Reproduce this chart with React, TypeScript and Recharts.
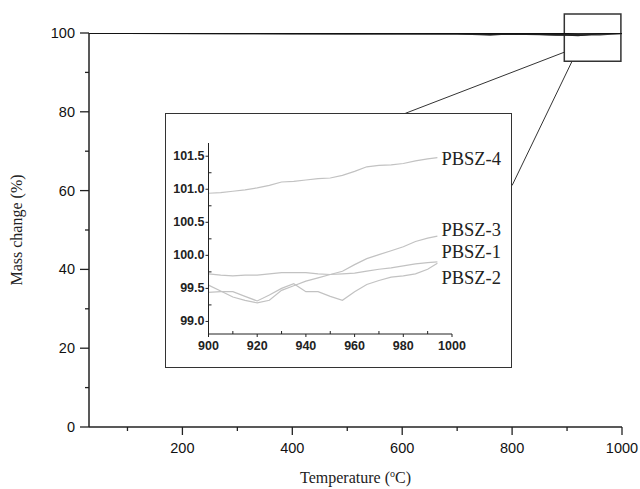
import React from "react";
import { LineChart, Line, XAxis, YAxis, ReferenceArea, ReferenceLine } from "recharts";

// main TGA curves (25-1000 °C)
const temps = [30, 60, 100, 200, 300, 400, 500, 600, 700, 740, 760, 780, 800, 850, 880, 900, 920, 940, 960, 980, 1000];
const main1 = [100, 99.95, 99.95, 99.9, 99.9, 99.9, 99.85, 99.9, 99.85, 99.8, 99.75, 99.8, 99.8, 99.75, 99.7, 99.7, 99.7, 99.75, 99.75, 99.85, 99.9];
const main2 = [100, 99.9, 99.9, 99.85, 99.85, 99.8, 99.85, 99.8, 99.75, 99.6, 99.45, 99.65, 99.7, 99.6, 99.45, 99.5, 99.4, 99.5, 99.5, 99.7, 99.85];
const main3 = [100, 99.9, 99.95, 99.9, 99.85, 99.85, 99.8, 99.8, 99.8, 99.75, 99.7, 99.7, 99.7, 99.65, 99.55, 99.5, 99.35, 99.6, 99.85, 100, 100];
const main4 = [100, 100, 99.95, 99.95, 100, 99.95, 99.95, 100, 99.95, 99.95, 99.9, 99.95, 99.95, 99.9, 99.9, 99.95, 100, 100, 100, 100, 100];

// inset: 900-1000 °C zoom
const zoomTemps = [900, 905, 910, 915, 920, 925, 930, 935, 940, 945, 950, 955, 960, 965, 970, 975, 980, 985, 990, 994];
const pbsz4 = [100.94, 100.95, 100.97, 100.99, 101.02, 101.06, 101.11, 101.12, 101.14, 101.16, 101.17, 101.21, 101.27, 101.34, 101.36, 101.37, 101.39, 101.43, 101.46, 101.48];
const pbsz3 = [99.55, 99.46, 99.37, 99.32, 99.28, 99.32, 99.47, 99.54, 99.61, 99.66, 99.71, 99.76, 99.86, 99.95, 100.01, 100.07, 100.13, 100.21, 100.26, 100.29];
const pbsz1 = [99.72, 99.7, 99.69, 99.7, 99.7, 99.72, 99.74, 99.74, 99.74, 99.72, 99.71, 99.72, 99.73, 99.76, 99.79, 99.81, 99.84, 99.87, 99.89, 99.9];
const pbsz2 = [99.44, 99.45, 99.45, 99.38, 99.31, 99.4, 99.5, 99.57, 99.45, 99.45, 99.38, 99.32, 99.45, 99.56, 99.62, 99.67, 99.69, 99.72, 99.79, 99.88];

const seriesNames = ["PBSZ-4", "PBSZ-3", "PBSZ-1", "PBSZ-2"];

const mainXTicks = [100, 200, 300, 400, 500, 600, 700, 800, 900, 1000];
const mainYTicks = [0, 10, 20, 30, 40, 50, 60, 70, 80, 90, 100];
const zoomXTicks = [900, 910, 920, 930, 940, 950, 960, 970, 980, 990, 1000];
const zoomYTicks = [99, 99.25, 99.5, 99.75, 100, 100.25, 100.5, 100.75, 101, 101.25, 101.5];

const mainData = temps.map((t, i) => ({ t, a: main1[i], b: main2[i], c: main3[i], d: main4[i] }));
const zoomData = zoomTemps.map((t, i) => ({ t, p4: pbsz4[i], p3: pbsz3[i], p1: pbsz1[i], p2: pbsz2[i] }));

const AXIS = "#222";
const SANS = "'Liberation Sans', Arial, sans-serif";
const SERIF = "'Liberation Serif', 'Times New Roman', serif";

const MainXTick = (props: any) => {
  const { x, y, payload } = props;
  const major = payload.value % 200 === 0;
  return (
    <g>
      <line x1={x} x2={x} y1={y} y2={y + (major ? 8 : 4)} stroke={AXIS} strokeWidth={1.3} />
      {major && (
        <text x={x} y={y + 26} textAnchor="middle" fontFamily={SANS} fontSize={14.5} fill="#111">
          {payload.value}
        </text>
      )}
    </g>
  );
};

const MainYTick = (props: any) => {
  const { x, y, payload } = props;
  const major = payload.value % 20 === 0;
  return (
    <g>
      <line x1={x} x2={x - (major ? 9 : 4)} y1={y} y2={y} stroke={AXIS} strokeWidth={1.3} />
      {major && (
        <text x={x - 14} y={y + 5} textAnchor="end" fontFamily={SANS} fontSize={14.5} fill="#111">
          {payload.value}
        </text>
      )}
    </g>
  );
};

const ZoomXTick = (props: any) => {
  const { x, y, payload } = props;
  const major = payload.value % 20 === 0;
  return (
    <g>
      <line x1={x} x2={x} y1={y} y2={major ? y + 3 : y - 3} stroke={AXIS} strokeWidth={1} />
      {major && (
        <text x={x} y={y + 16} textAnchor="middle" fontFamily={SANS} fontWeight="bold" fontSize={12.5} fill="#222">
          {payload.value}
        </text>
      )}
    </g>
  );
};

const ZoomYTick = (props: any) => {
  const { x, y, payload } = props;
  const v = payload.value;
  const major = Math.abs(v * 2 - Math.round(v * 2)) < 1e-6;
  return (
    <g>
      <line x1={x} x2={major ? x - 3 : x + 3} y1={y} y2={y} stroke={AXIS} strokeWidth={1} />
      {major && (
        <text x={x - 4} y={y + 4} textAnchor="end" fontFamily={SANS} fontWeight="bold" fontSize={12.5} fill="#222">
          {v.toFixed(1)}
        </text>
      )}
    </g>
  );
};

const XTitle = (props: any) => {
  const { viewBox } = props;
  const cx = viewBox.x + viewBox.width / 2;
  return (
    <text x={cx} y={viewBox.y + 56} textAnchor="middle" fontFamily={SERIF} fontSize={16} fill="#222">
      Temperature (
      <tspan dy={-6} fontSize={10}>o</tspan>
      <tspan dy={6}>C)</tspan>
    </text>
  );
};

const YTitle = (props: any) => {
  const { viewBox } = props;
  const tx = viewBox.x - 7;
  const ty = viewBox.y + viewBox.height / 2;
  return (
    <text x={tx} y={ty} transform={`rotate(-90, ${tx}, ${ty})`} textAnchor="middle" fontFamily={SERIF} fontSize={16} fill="#222">
      Mass change (%)
    </text>
  );
};

// label offsets (px) from each curve's last point
const labelShift: Record<string, number> = { "PBSZ-4": 1, "PBSZ-3": -6, "PBSZ-1": -10, "PBSZ-2": 15 };

const endLabel = (name: string) => (props: any) => {
  const { x, y, index } = props;
  if (index !== zoomTemps.length - 1) return null;
  return (
    <text x={x + 4} y={y + labelShift[name] + 6} fontFamily={SERIF} fontSize={18.5} fill="#222">
      {name}
    </text>
  );
};

export default function App() {
  const keys = ["p4", "p3", "p1", "p2"];
  return (
    <div style={{ position: "absolute", left: 0, top: 0, width: 640, height: 489, background: "#fff" }}>
      <LineChart width={640} height={489} data={mainData} margin={{ top: 33, right: 18, bottom: 22, left: 29 }}>
        <XAxis
          dataKey="t"
          type="number"
          domain={[30, 1000]}
          ticks={mainXTicks}
          interval={0}
          height={40}
          tickSize={0}
          tickMargin={0}
          tick={<MainXTick />}
          axisLine={{ stroke: AXIS, strokeWidth: 1.5 }}
          label={<XTitle />}
        />
        <YAxis
          type="number"
          domain={[0, 100]}
          allowDataOverflow
          ticks={mainYTicks}
          interval={0}
          width={60}
          tickSize={0}
          tickMargin={0}
          tick={<MainYTick />}
          axisLine={{ stroke: AXIS, strokeWidth: 1.5 }}
          label={<YTitle />}
        />
        <Line dataKey="a" stroke="#222" strokeWidth={1.4} dot={false} isAnimationActive={false} />
        <Line dataKey="b" stroke="#333" strokeWidth={1.2} dot={false} isAnimationActive={false} />
        <Line dataKey="c" stroke="#222" strokeWidth={1.4} dot={false} isAnimationActive={false} />
        <Line dataKey="d" stroke="#111" strokeWidth={1.6} dot={false} isAnimationActive={false} />
        <ReferenceArea x1={895} x2={998} y1={92.8} y2={104.8} ifOverflow="visible" fill="none" stroke="#333" strokeWidth={1.5} />
        <ReferenceLine segment={[{ x: 894.5, y: 95.1 }, { x: 605.5, y: 79.6 }]} ifOverflow="visible" stroke="#333" strokeWidth={1} />
        <ReferenceLine segment={[{ x: 909, y: 92.8 }, { x: 800, y: 61.3 }]} ifOverflow="visible" stroke="#333" strokeWidth={1} />
      </LineChart>
      <div
        style={{
          position: "absolute",
          left: 165,
          top: 113,
          width: 347,
          height: 255,
          boxSizing: "border-box",
          border: "1.5px solid #333",
          background: "#fff",
        }}
      >
        <div style={{ position: "absolute", left: -1.5, top: -1.5 }}>
          <LineChart width={347} height={255} data={zoomData} margin={{ top: 30, right: 60, bottom: 4, left: 3 }}>
            <XAxis
              dataKey="t"
              type="number"
              domain={[900, 1000]}
              ticks={zoomXTicks}
              interval={0}
              height={30}
              tickSize={0}
              tickMargin={0}
              tick={<ZoomXTick />}
              axisLine={{ stroke: AXIS, strokeWidth: 1 }}
            />
            <YAxis
              type="number"
              domain={[98.81, 101.7]}
              allowDataOverflow
              ticks={zoomYTicks}
              interval={0}
              width={40.5}
              tickSize={0}
              tickMargin={0}
              tick={<ZoomYTick />}
              axisLine={{ stroke: AXIS, strokeWidth: 1 }}
            />
            {keys.map((k, i) => (
              <Line
                key={k}
                dataKey={k}
                stroke="#c2c2c2"
                strokeWidth={1.2}
                dot={false}
                isAnimationActive={false}
                label={endLabel(seriesNames[i])}
              />
            ))}
          </LineChart>
        </div>
      </div>
    </div>
  );
}
